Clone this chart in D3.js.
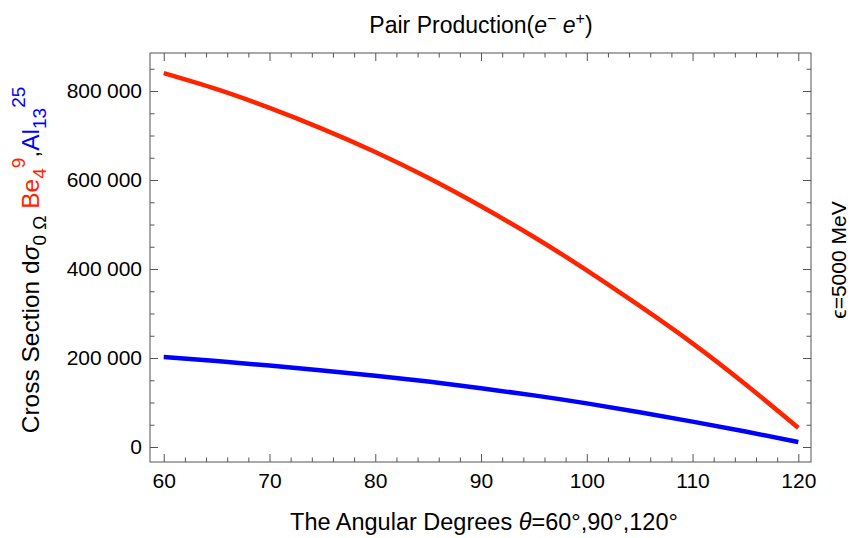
<!DOCTYPE html>
<html>
<head>
<meta charset="utf-8">
<script src="https://cdn.jsdelivr.net/npm/d3@7"></script>
<style>
  body { margin: 0; background: #fff; }
  text { font-family: "Liberation Sans", Arial, sans-serif; }
</style>
</head>
<body>
<div id="chart"></div>
<script>

// angles (degrees) and cross sections
var angles = [60, 65, 70, 75, 80, 85, 90, 95, 100, 105, 110, 115, 120];
var be9 = [840000, 804000, 762000, 715000, 663000, 605000, 541000, 472000, 397000, 317000, 233000, 141000, 43000];
var al25 = [202000, 193000, 183000, 172000, 160000, 147000, 132000, 116000, 98000, 78000, 57000, 35000, 11000];

var xTicks = [60, 70, 80, 90, 100, 110, 120];
var yTicks = [0, 200000, 400000, 600000, 800000];

var width = 855, height = 538;
var frame = {left: 150, right: 811, top: 53, bottom: 462};

var svg = d3.select("#chart").append("svg")
	.attr("width", width)
	.attr("height", height);

var x = d3.scaleLinear()
	.domain([58.7, 121.2])
	.range([frame.left, frame.right]);

var y = d3.scaleLinear()
	.domain([-33700, 885400])
	.range([frame.bottom, frame.top]);

var fmt = function (d) {
	return d3.format(",")(d).replace(/,/g, "\u2005");
};

var minorX = d3.range(58, 122, 2).filter(function (d) { return d >= 58.7 && d <= 121.2 && d % 10 != 0; });
var minorY = d3.range(-50000, 900000, 50000).filter(function (d) { return d >= -33700 && d <= 885400 && d % 200000 != 0; });

// frame axes, ticks pointing inward
function frameAxis(axis, tickVals, size, labels, transform) {
	var g = svg.append("g")
		.attr("transform", transform)
		.call(axis.tickValues(tickVals).tickSize(size).tickSizeOuter(0)
			.tickFormat(labels ? labels : ""));
	g.select(".domain").remove();
	g.selectAll(".tick line").attr("stroke", "#555").attr("stroke-width", 1);
	g.selectAll(".tick text")
		.attr("fill", "#000")
		.style("font-size", "21px")
		.style("font-family", "'Liberation Sans', Arial, sans-serif");
	return g;
}

var gxb = frameAxis(d3.axisBottom(x), xTicks, -8, d3.format("d"), "translate(0," + frame.bottom + ")");
gxb.selectAll(".tick text").attr("y", 11).attr("dy", "0.71em");
frameAxis(d3.axisBottom(x), minorX, -4.5, null, "translate(0," + frame.bottom + ")");
frameAxis(d3.axisTop(x), xTicks, -8, null, "translate(0," + frame.top + ")");
frameAxis(d3.axisTop(x), minorX, -4.5, null, "translate(0," + frame.top + ")");

var gyl = frameAxis(d3.axisLeft(y), yTicks, -8, fmt, "translate(" + frame.left + ",0)");
gyl.selectAll(".tick text").attr("x", -8);
frameAxis(d3.axisLeft(y), minorY, -4.5, null, "translate(" + frame.left + ",0)");
frameAxis(d3.axisRight(y), yTicks, -8, null, "translate(" + frame.right + ",0)");
frameAxis(d3.axisRight(y), minorY, -4.5, null, "translate(" + frame.right + ",0)");

svg.append("rect")
	.attr("x", frame.left)
	.attr("y", frame.top)
	.attr("width", frame.right - frame.left)
	.attr("height", frame.bottom - frame.top)
	.attr("fill", "none")
	.attr("stroke", "#555")
	.attr("stroke-width", 1);

// curves
svg.append("clipPath").attr("id", "clip")
	.append("rect")
	.attr("x", frame.left).attr("y", frame.top)
	.attr("width", frame.right - frame.left).attr("height", frame.bottom - frame.top);

function drawCurve(values, color) {
	var line = d3.line()
		.x(function (d, i) { return x(angles[i]); })
		.y(function (d) { return y(d); })
		.curve(d3.curveNatural);
	svg.append("path")
		.datum(values)
		.attr("d", line)
		.attr("fill", "none")
		.attr("stroke", color)
		.attr("stroke-width", 4.5)
		.attr("clip-path", "url(#clip)");
}

drawCurve(be9, "#ff2400");
drawCurve(al25, "#0000ff");

// title
var title = svg.append("text")
	.attr("x", 481)
	.attr("y", 33)
	.attr("text-anchor", "middle")
	.style("font-size", "23px");
title.append("tspan").text("Pair Production(");
title.append("tspan").style("font-style", "italic").text("e");
title.append("tspan").attr("dy", -9).style("font-size", "16px").text("\u2212");
title.append("tspan").attr("dy", 9).text(" ");
title.append("tspan").style("font-style", "italic").text("e");
title.append("tspan").attr("dy", -9).style("font-size", "16px").text("+");
title.append("tspan").attr("dy", 9).text(")");

// x label
var xl = svg.append("text")
	.attr("x", 484)
	.attr("y", 530)
	.attr("text-anchor", "middle")
	.style("font-size", "23.5px");
xl.append("tspan").text("The Angular Degrees ");
xl.append("tspan").style("font-style", "italic").text("\u03b8");
xl.append("tspan").text("=60\u00b0,90\u00b0,120\u00b0");

// y label
var yl = svg.append("text")
	.attr("transform", "translate(39,260) rotate(-90)")
	.attr("text-anchor", "middle")
	.style("font-size", "24.5px");
yl.append("tspan").text("Cross Section d");
yl.append("tspan").style("font-style", "italic").text("\u03c3");
yl.append("tspan").attr("dy", 7).style("font-size", "19px").text("0 \u03a9");
yl.append("tspan").attr("dy", -7).text(" ");
yl.append("tspan").attr("fill", "#ff2400").text("Be");
yl.append("tspan").attr("fill", "#ff2400").attr("dy", 7).style("font-size", "19px").text("4");
yl.append("tspan").attr("fill", "#ff2400").attr("dy", -21).style("font-size", "19px").text("9");
yl.append("tspan").attr("dy", 14).text(",");
yl.append("tspan").attr("fill", "#0000ff").text("Al");
yl.append("tspan").attr("fill", "#0000ff").attr("dy", 7).style("font-size", "19px").text("13");
yl.append("tspan").attr("fill", "#0000ff").attr("dy", -21).style("font-size", "19px").text("25");

// right label
svg.append("text")
	.attr("transform", "translate(846,260) rotate(-90)")
	.attr("text-anchor", "middle")
	.style("font-size", "21px")
	.text("\u03f5=5000 MeV");

</script>
</body>
</html>
